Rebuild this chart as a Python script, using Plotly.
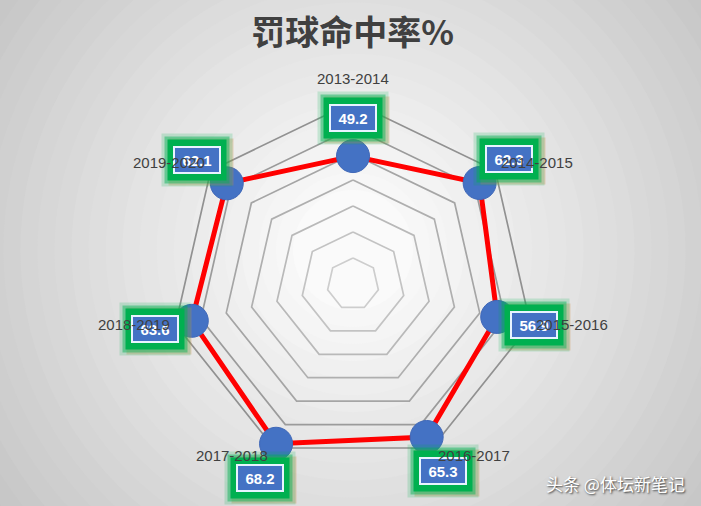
import math
import plotly.graph_objects as go

# data
seasons = ["2013-2014", "2014-2015", "2015-2016", "2016-2017",
           "2017-2018", "2018-2019", "2019-2020"]
ft_pct = [49.2, 62.3, 56.9, 65.3, 68.2, 63.6, 62.1]
ring_values = [10, 20, 30, 40, 50, 60, 70]

W, H = 701, 506
cx, cy, R = 353, 284, 182      # polar centre (px from top-left), px radius of 70
rmax = 70
rpad = 72                      # a little room so the outer ring is not clipped
Rd = R * rpad / rmax

fig = go.Figure()

# rings of the heptagon grid, darker towards the outside
for i, rv in enumerate(ring_values):
    g = int(205 - i * 10)
    fig.add_trace(go.Scatterpolar(
        r=[rv] * (len(seasons) + 1),
        theta=seasons + seasons[:1],
        mode="lines",
        line=dict(color=f"rgb({g},{g},{g})", width=1.7),
        hoverinfo="skip",
        showlegend=False,
    ))

# series
fig.add_trace(go.Scatterpolar(
    r=ft_pct + ft_pct[:1],
    theta=seasons + seasons[:1],
    mode="lines",
    line=dict(color="#ff0000", width=5),
    cliponaxis=False,
    showlegend=False,
))
fig.add_trace(go.Scatterpolar(
    r=ft_pct,
    theta=seasons,
    mode="markers",
    marker=dict(size=33, color="#4472c4", line=dict(color="#4068b8", width=1)),
    cliponaxis=False,
    showlegend=False,
))

# radial gradient background
shapes = []
n = 28
for k in range(n):
    t = 1 - k / (n - 1)
    rad = 60 + t * 460
    g = int(250 - t * 62)
    shapes.append(dict(
        type="circle", xref="paper", yref="paper", layer="below",
        x0=(cx - rad) / W, x1=(cx + rad) / W,
        y0=(H - 250 - rad) / H, y1=(H - 250 + rad) / H,
        line=dict(width=0), fillcolor=f"rgb({g},{g},{g})",
    ))


def to_paper(r, i):
    th = 2 * math.pi * i / len(seasons)
    px = cx + r * R / rmax * math.sin(th)
    py = cy - r * R / rmax * math.cos(th)
    return px / W, (H - py) / H, th


# data labels (glow + blue box), offset outward from each point
annotations = []
off = 38
for i, v in enumerate(ft_pct):
    x, y, th = to_paper(v, i)
    base = dict(x=x, y=y, xref="paper", yref="paper",
                showarrow=True, arrowcolor="rgba(0,0,0,0)", arrowwidth=0.1,
                ax=off * math.sin(th), ay=-off * math.cos(th))
    annotations.append(dict(base, text=" ", width=62, height=44,
                            ax=base["ax"] + 4, ay=base["ay"] + 2,
                            bgcolor="rgba(205,140,70,0.30)"))
    annotations.append(dict(base, text=" ", width=68, height=50,
                            bgcolor="rgba(0,176,80,0.18)"))
    annotations.append(dict(base, text=" ", width=62, height=44,
                            bgcolor="rgba(0,176,80,0.45)"))
    annotations.append(dict(base, text=" ", width=56, height=38,
                            bgcolor="rgba(0,176,80,1)"))
    annotations.append(dict(base, text=f"<b>{v}</b>", width=40, height=20,
                            bgcolor="#4472c4", bordercolor="#e8f4ff",
                            borderwidth=2, borderpad=2,
                            font=dict(family="Liberation Sans", size=15,
                                      color="white")))

# category labels, drawn on top like the reference
for i, s in enumerate(seasons):
    x, y, th = to_paper(rmax, i)
    sn, cs = math.sin(th), math.cos(th)
    if sn > 0.1:
        xa, xs = "left", 4
    elif sn < -0.1:
        xa, xs = "right", -4
    else:
        xa, xs = "center", 0
    if cs > 0.95:
        ys = 23
    elif cs > 0.3:
        ys = 8
    elif cs > -0.5:
        ys = 0
    else:
        ys = -8
    annotations.append(dict(
        text=s, x=x, y=y, xref="paper", yref="paper", showarrow=False,
        xanchor=xa, yanchor="middle", xshift=xs, yshift=ys,
        font=dict(family="Liberation Sans", size=15, color="#404040"),
    ))

annotations.append(dict(
    text="头条 @体坛新笔记", x=0.98, y=0.045, xref="paper", yref="paper",
    xanchor="right", yanchor="middle", showarrow=False,
    font=dict(family="Noto Sans CJK SC", size=17, color="white",
              shadow="1px 1px 2px #333"),
))

fig.update_layout(
    width=W, height=H,
    margin=dict(l=0, r=0, t=0, b=0),
    paper_bgcolor="#e6e6e6",
    title=dict(text="<b>罚球命中率%</b>", x=0.503, y=0.935,
               xanchor="center", yanchor="middle",
               font=dict(family="Noto Sans CJK SC", size=34, color="#404040")),
    polar=dict(
        domain=dict(x=[(cx - Rd) / W, (cx + Rd) / W],
                    y=[(H - cy - Rd) / H, (H - cy + Rd) / H]),
        bgcolor="rgba(0,0,0,0)",
        gridshape="linear",
        radialaxis=dict(range=[0, rpad], visible=False),
        angularaxis=dict(
            direction="clockwise", rotation=90, type="category",
            showgrid=False, showline=False, ticks="", showticklabels=False,
        ),
    ),
    shapes=shapes,
    annotations=annotations,
)

fig.write_html(
    "out.html",
    config={"displayModeBar": False},
    post_script="document.body.style.margin='0';"
                "document.body.style.overflow='hidden';",
)
